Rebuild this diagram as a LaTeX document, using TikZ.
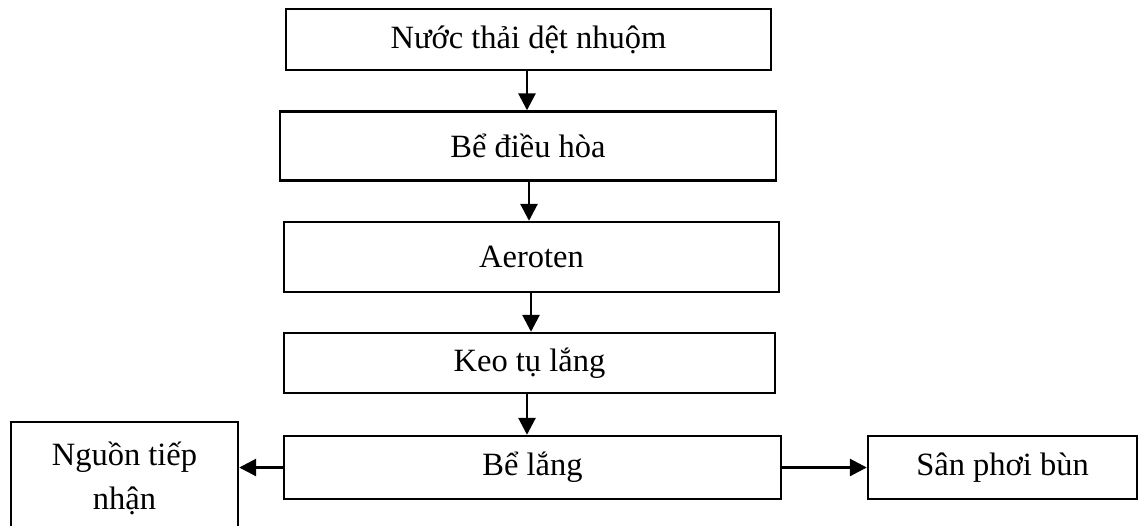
\documentclass[tikz,border=0pt]{standalone}
\usepackage{fontspec}
\setmainfont{Liberation Serif}
\usetikzlibrary{arrows.meta}
\begin{document}
\begin{tikzpicture}[x=1pt,y=-1pt,
  box/.style={draw=black, line width=2.4pt, rectangle, inner sep=0pt, align=center,
    font=\fontsize{32.5}{44}\selectfont},
  flow/.style={line width=2.8pt, -{Triangle[length=17pt,width=17pt]}}]
\fill[white] (0,0) rectangle (1147,525);
\useasboundingbox (0,0) rectangle (1147,525);
\node[box, minimum width=485pt, minimum height=61pt] (n1) at (528.5,39.5) {Nước thải dệt nhuộm};
\node[box, minimum width=496pt, minimum height=69pt] (n2) at (528,146) {Bể điều hòa};
\node[box, minimum width=495pt, minimum height=70pt] (n3) at (531.5,257) {Aeroten};
\node[box, minimum width=491pt, minimum height=60pt] (n4) at (529.5,363) {Keo tụ lắng};
\node[box, minimum width=497pt, minimum height=63pt] (n5) at (532.5,467.5) {Bể lắng};
\node[box, minimum width=227pt, minimum height=112pt] (n6) at (124.5,478) {Nguồn tiếp\\nhận};
\node[box, minimum width=269pt, minimum height=63pt] (n7) at (1002.5,467.5) {Sân phơi bùn};
\draw[flow] (n1.south -| 527,0) -- (n2.north -| 527,0);
\draw[flow] (n2.south -| 529,0) -- (n3.north -| 529,0);
\draw[flow] (n3.south -| 531,0) -- (n4.north -| 531,0);
\draw[flow] (n4.south -| 527,0) -- (n5.north -| 527,0);
\draw[flow] (n5.west) -- (n6.east |- n5.west);
\draw[flow] (n5.east) -- (n7.west);
\end{tikzpicture}
\end{document}
